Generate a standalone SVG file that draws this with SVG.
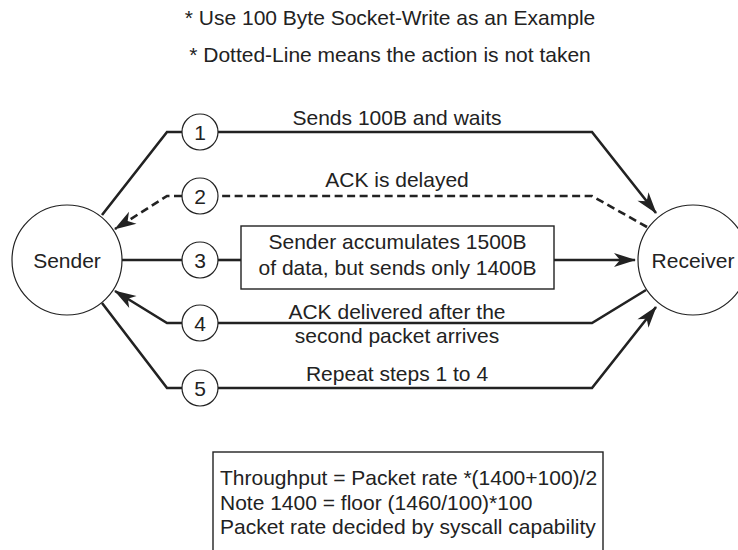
<svg xmlns="http://www.w3.org/2000/svg" width="738" height="550" viewBox="0 0 738 550">
<style>
text{font-family:"Liberation Sans",Arial,sans-serif;font-size:21px;fill:#222}
.mid{text-anchor:middle}
.node{fill:#fff;stroke:#222;stroke-width:1.2}
.box{fill:#fff;stroke:#222;stroke-width:1.4}
.ln{fill:none;stroke:#222;stroke-width:2.6;stroke-linejoin:miter}
.dash{stroke-dasharray:8,4.5}
</style>
<defs>
<marker id="arr" markerUnits="userSpaceOnUse" markerWidth="24" markerHeight="16" viewBox="-22 -8 24 16" refX="0" refY="0" orient="auto">
<path d="M1,0 L-21,-7 L-15,0 L-21,7 Z" fill="#222"/>
</marker>
</defs>
<rect width="738" height="550" fill="#fff"/>
<g id="notes">
<text class="mid" x="390" y="25">* Use 100 Byte Socket-Write as an Example</text>
<text class="mid" x="390" y="62">* Dotted-Line means the action is not taken</text>
</g>
<g id="connectors">
<path class="ln" d="M102,215 L167,132 L182,132"/>
<path class="ln" d="M218,132 L592,132 L656,213" marker-end="url(#arr)"/>
<path class="ln dash" d="M647,227 L592,196 L218,196"/>
<path class="ln dash" d="M182,196 L167,196 L115,229" marker-end="url(#arr)"/>
<path class="ln" d="M122,260 L182,260"/>
<path class="ln" d="M218,260 L241,260"/>
<path class="ln" d="M554,260 L635,260" marker-end="url(#arr)"/>
<path class="ln" d="M646,290 L592,323 L218,323"/>
<path class="ln" d="M182,323 L167,323 L115,291" marker-end="url(#arr)"/>
<path class="ln" d="M102,303 L167,388 L182,388"/>
<path class="ln" d="M218,388 L592,388 L656,307" marker-end="url(#arr)"/>
<text class="mid" x="397" y="125">Sends 100B and waits</text>
<text class="mid" x="397" y="187">ACK is delayed</text>
<text class="mid" x="397" y="319">ACK delivered after the</text>
<text class="mid" x="397" y="343">second packet arrives</text>
<text class="mid" x="397" y="381">Repeat steps 1 to 4</text>
</g>
<g id="sender">
<circle class="node" cx="67" cy="260" r="55"/>
<text class="mid" x="67" y="267.5">Sender</text>
</g>
<g id="receiver">
<circle class="node" cx="693" cy="260" r="55"/>
<text class="mid" x="693" y="267.5">Receiver</text>
</g>
<g id="step1"><circle class="node" cx="200" cy="132" r="18"/><text class="mid" x="200" y="139.5">1</text></g>
<g id="step2"><circle class="node" cx="200" cy="196" r="18"/><text class="mid" x="200" y="203.5">2</text></g>
<g id="step3"><circle class="node" cx="200" cy="260" r="18"/><text class="mid" x="200" y="267.5">3</text></g>
<g id="step4"><circle class="node" cx="200" cy="323" r="18"/><text class="mid" x="200" y="330.5">4</text></g>
<g id="step5"><circle class="node" cx="200" cy="388" r="18"/><text class="mid" x="200" y="395.5">5</text></g>
<g id="accumulate">
<rect class="box" x="241" y="226" width="313" height="63"/>
<text class="mid" x="397.5" y="249">Sender accumulates 1500B</text>
<text class="mid" x="397.5" y="275">of data, but sends only 1400B</text>
</g>
<g id="throughput">
<rect class="box" x="213" y="452" width="390" height="110"/>
<text x="220" y="485">Throughput = Packet rate *(1400+100)/2</text>
<text x="220" y="510">Note 1400 = floor (1460/100)*100</text>
<text x="220" y="534">Packet rate decided by syscall capability</text>
</g>
</svg>
